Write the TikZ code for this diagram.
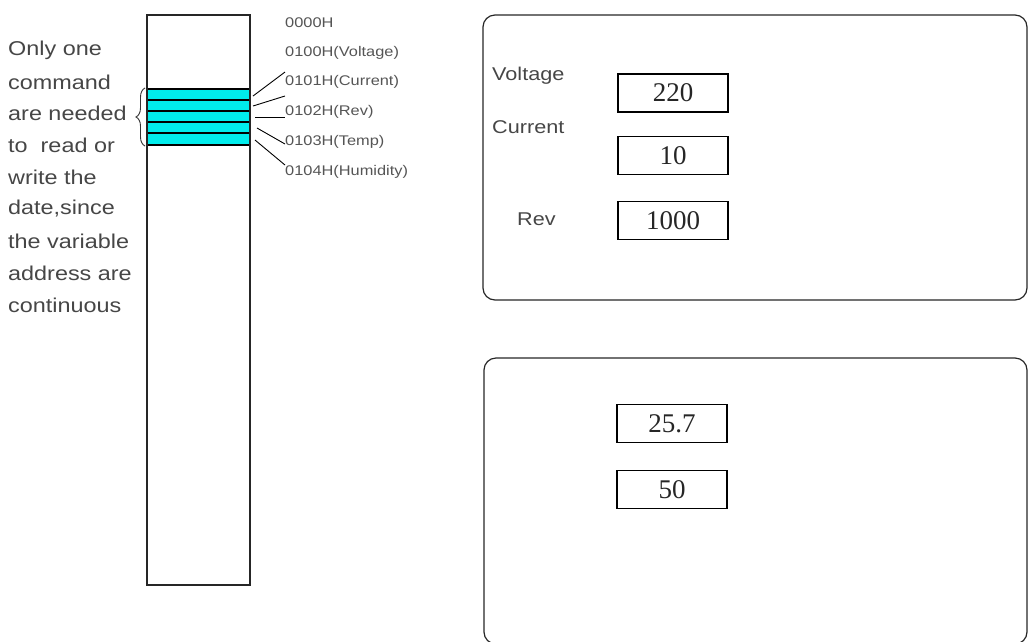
\documentclass[tikz,border=0pt]{standalone}
\usepackage{fontspec}
\setmainfont{Liberation Sans}
\newfontfamily\widesans[FakeStretch=1.17]{Liberation Sans}
\newfontfamily\valfont{Liberation Serif}
\usetikzlibrary{decorations.pathreplacing}
\definecolor{bandcyan}{RGB}{0,236,236}
\definecolor{txtgray}{RGB}{70,70,70}
\definecolor{addrgray}{RGB}{85,85,85}
\begin{document}
\begin{tikzpicture}[x=1pt,y=-1pt,
  lefttxt/.style={anchor=west,inner sep=0pt,text=txtgray,font=\widesans\fontsize{20}{20}\selectfont},
  addr/.style={anchor=west,inner sep=0pt,text=addrgray,font=\widesans\fontsize{14}{14}\selectfont},
  plabel/.style={anchor=west,inner sep=0pt,text=txtgray,font=\widesans\fontsize{18.5}{18.5}\selectfont},
  valbox/.style={draw=black,line width=1.3pt,minimum width=110pt,minimum height=38pt,inner sep=0pt,text=black!85,font=\valfont\fontsize{27}{27}\selectfont},
  panel/.style={draw=black!85,line width=1.2pt,rounded corners=12pt},
  leader/.style={draw=black,line width=0.9pt}]
\useasboundingbox (0,0) rectangle (1029,641);
\begin{scope}
\clip (0,0) rectangle (1029,641);
% memory column: cyan bands, then the column outline
\fill[bandcyan] (147,89) rectangle (250,145);
\foreach \yy in {89,100,111,122,133,145}{\draw[line width=1.3pt] (147,\yy) -- (250,\yy);}
\node[draw=black!85,line width=1.5pt,minimum width=103pt,minimum height=570pt,inner sep=0pt] (col) at (198.5,300) {};
% brace
\coordinate (bb) at (145,146);
\coordinate (bt) at (145,88);
\draw[black!80,line width=0.9pt,decorate,decoration={brace,amplitude=9pt}] (bb) -- (bt);
% address labels
\node[addr] (a0) at (285,23) {0000H};
\node[addr] (a1) at (285,53) {0100H(Voltage)};
\node[addr] (a2) at (285,82) {0101H(Current)};
\node[addr] (a3) at (285,112) {0102H(Rev)};
\node[addr] (a4) at (285,142) {0103H(Temp)};
\node[addr] (a5) at (285,172) {0104H(Humidity)};
% leader lines
\coordinate (s1) at (253,96);  \coordinate (e1) at (285,72);
\coordinate (s2) at (253,106); \coordinate (e2) at (285,96);
\coordinate (s3) at (255,117); \coordinate (e3) at (285,117);
\coordinate (s4) at (257,128); \coordinate (e4) at (285,144);
\coordinate (s5) at (255,140); \coordinate (e5) at (285,165);
\foreach \i in {1,...,5}{\draw[leader] (s\i) -- (e\i);}
% left text
\node[lefttxt] (l1) at (8,50) {Only one};
\node[lefttxt] (l2) at (8,82) {command};
\node[lefttxt] (l3) at (8,113) {are needed};
\node[lefttxt] (l4) at (8,145) {to\ \ read or};
\node[lefttxt] (l5) at (8,177) {write the};
\node[lefttxt] (l6) at (8,209) {date,since};
\node[lefttxt] (l7) at (8,241) {the variable};
\node[lefttxt] (l8) at (8,273) {address are};
\node[lefttxt] (l9) at (8,305) {continuous};
% top panel
\draw[panel] (483,15) rectangle (1027,300);
\node[plabel] (pv) at (492,76) {Voltage};
\node[plabel] (pc) at (492,127) {Current};
\node[plabel] (pr) at (517,219) {Rev};
\node[valbox] (v1) at (673,93) {220};
\node[valbox] (v2) at (673,155.5) {10};
\node[valbox] (v3) at (673,220.5) {1000};
% bottom panel
\draw[panel] (484,358) rectangle (1027,644);
\node[valbox] (v4) at (672,423.5) {25.7};
\node[valbox] (v5) at (672,489.5) {50};
\end{scope}
\end{tikzpicture}
\end{document}
